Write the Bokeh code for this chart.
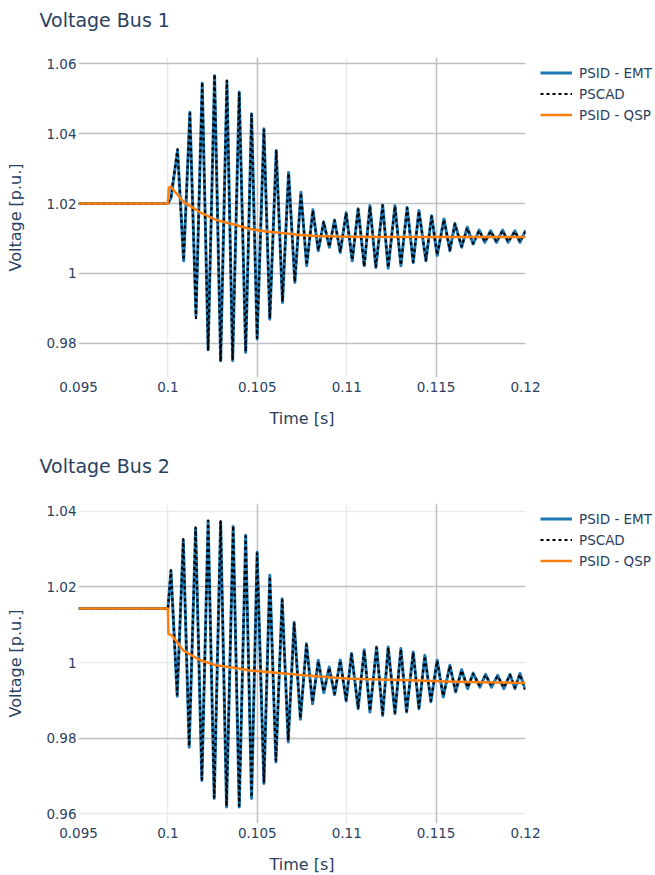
from bokeh.plotting import figure
from bokeh.models import Range1d, FixedTicker, Grid, Legend, LegendItem
from bokeh.layouts import column
from bokeh.embed import file_html
from bokeh.resources import INLINE

# ---------------- data ----------------
series_names = ["PSID - EMT", "PSCAD", "PSID - QSP"]
x_ticks = [0.095, 0.1, 0.105, 0.11, 0.115, 0.12]
x_tick_labels = ["0.095", "0.1", "0.105", "0.11", "0.115", "0.12"]

# Bus 1
bus1_time = [0.09500, 0.10000, 0.10005, 0.10017,
             0.10054, 0.10088, 0.10123, 0.10157, 0.10192, 0.10225, 0.10261, 0.10295, 0.10330, 0.10362,
             0.10399, 0.10435, 0.10468, 0.10499, 0.10537, 0.10570, 0.10606, 0.10641, 0.10675, 0.10710,
             0.10744, 0.10776, 0.10811, 0.10841, 0.10871, 0.10903, 0.10932, 0.10964, 0.10997, 0.11031,
             0.11064, 0.11098, 0.11130, 0.11163, 0.11201, 0.11232, 0.11270, 0.11303, 0.11338, 0.11372,
             0.11404, 0.11443, 0.11475, 0.11506, 0.11544, 0.11577, 0.11605, 0.11643, 0.11674, 0.11707,
             0.11741, 0.11773, 0.11805, 0.11838, 0.11872, 0.11903, 0.11941, 0.11969, 0.12002]
bus1_emt = [1.0200, 1.0200, 1.0205, 1.0215,
            1.0352, 1.0036, 1.0461, 0.9879, 1.0544, 0.9783, 1.0566, 0.9750, 1.0550, 0.9750,
            1.0519, 0.9774, 1.0457, 0.9812, 1.0414, 0.9869, 1.0352, 0.9917, 1.0289, 0.9974,
            1.0232, 1.0022, 1.0182, 1.0065, 1.0146, 1.0075, 1.0153, 1.0060, 1.0174, 1.0036,
            1.0185, 1.0022, 1.0194, 1.0017, 1.0196, 1.0015, 1.0194, 1.0022, 1.0189, 1.0031,
            1.0180, 1.0036, 1.0165, 1.0051, 1.0156, 1.0065, 1.0143, 1.0075, 1.0132, 1.0084,
            1.0124, 1.0089, 1.0122, 1.0089, 1.0124, 1.0089, 1.0122, 1.0089, 1.0124]
bus1_pscad = [1.0200, 1.0200, 1.0206, 1.0218,
              1.0356, 1.0038, 1.0458, 0.9872, 1.0548, 0.9778, 1.0570, 0.9748, 1.0552, 0.9752,
              1.0516, 0.9776, 1.0455, 0.9815, 1.0411, 0.9871, 1.0350, 0.9920, 1.0286, 0.9976,
              1.0230, 1.0024, 1.0180, 1.0066, 1.0148, 1.0076, 1.0151, 1.0062, 1.0172, 1.0038,
              1.0183, 1.0020, 1.0192, 1.0019, 1.0194, 1.0017, 1.0192, 1.0024, 1.0187, 1.0033,
              1.0178, 1.0038, 1.0163, 1.0053, 1.0154, 1.0067, 1.0141, 1.0077, 1.0130, 1.0086,
              1.0122, 1.0091, 1.0120, 1.0091, 1.0122, 1.0091, 1.0120, 1.0091, 1.0122]
bus1_qsp_time = [0.0950, 0.1000, 0.10005, 0.10015, 0.1009, 0.1018, 0.1027, 0.1037, 0.1046,
                 0.1055, 0.1065, 0.1074, 0.1083, 0.1100, 0.1130, 0.1160, 0.1200]
bus1_qsp = [1.0200, 1.0200, 1.0245, 1.0248, 1.0204, 1.0175, 1.0153, 1.0140, 1.0127,
            1.0120, 1.0115, 1.0110, 1.0107, 1.0105, 1.0104, 1.0104, 1.0104]
bus1_y_ticks = [0.98, 1.0, 1.02, 1.04, 1.06]
bus1_y_labels = ["0.98", "1", "1.02", "1.04", "1.06"]

# Bus 2
bus2_time = [0.09500, 0.10000,
             0.10017, 0.10052, 0.10086, 0.10119, 0.10155, 0.10190, 0.10225, 0.10259, 0.10295, 0.10328,
             0.10365, 0.10399, 0.10435, 0.10468, 0.10499, 0.10537, 0.10570, 0.10604, 0.10639, 0.10673,
             0.10706, 0.10741, 0.10775, 0.10809, 0.10841, 0.10872, 0.10902, 0.10932, 0.10964, 0.10997,
             0.11027, 0.11064, 0.11098, 0.11130, 0.11167, 0.11201, 0.11232, 0.11270, 0.11303, 0.11335,
             0.11372, 0.11404, 0.11437, 0.11471, 0.11506, 0.11540, 0.11577, 0.11609, 0.11643, 0.11676,
             0.11707, 0.11745, 0.11777, 0.11810, 0.11844, 0.11879, 0.11913, 0.11941, 0.11969, 0.11997]
bus2_emt = [1.0143, 1.0143,
            1.0242, 0.9911, 1.0323, 0.9776, 1.0354, 0.9688, 1.0374, 0.9640, 1.0372, 0.9618,
            1.0360, 0.9618, 1.0337, 0.9640, 1.0292, 0.9680, 1.0231, 0.9737, 1.0169, 0.9790,
            1.0107, 0.9850, 1.0050, 0.9891, 1.0006, 0.9920, 0.9988, 0.9915, 1.0007, 0.9898,
            1.0024, 0.9878, 1.0034, 0.9869, 1.0041, 0.9860, 1.0041, 0.9865, 1.0037, 0.9869,
            1.0028, 0.9878, 1.0019, 0.9896, 1.0006, 0.9909, 0.9993, 0.9922, 0.9981, 0.9931,
            0.9972, 0.9935, 0.9969, 0.9935, 0.9966, 0.9931, 0.9969, 0.9931, 0.9971, 0.9931]
bus2_pscad = [1.0143, 1.0143,
              1.0245, 0.9915, 1.0327, 0.9779, 1.0358, 0.9691, 1.0376, 0.9643, 1.0374, 0.9620,
              1.0362, 0.9621, 1.0334, 0.9644, 1.0289, 0.9684, 1.0228, 0.9741, 1.0165, 0.9794,
              1.0104, 0.9853, 1.0047, 0.9895, 1.0003, 0.9923, 0.9986, 0.9918, 1.0005, 0.9901,
              1.0022, 0.9881, 1.0032, 0.9872, 1.0039, 0.9863, 1.0039, 0.9868, 1.0035, 0.9872,
              1.0026, 0.9881, 1.0017, 0.9899, 1.0004, 0.9912, 0.9991, 0.9925, 0.9979, 0.9934,
              0.9970, 0.9938, 0.9967, 0.9938, 0.9964, 0.9934, 0.9967, 0.9934, 0.9969, 0.9928]
bus2_qsp_time = [0.0950, 0.1000, 0.10003, 0.10022, 0.10086, 0.1018, 0.1027, 0.1037, 0.1046,
                 0.1065, 0.1083, 0.1102, 0.1135, 0.1160, 0.1200]
bus2_qsp = [1.0143, 1.0143, 1.0076, 1.0072, 1.0032, 1.0006, 0.9993, 0.9986, 0.9979,
            0.9971, 0.9964, 0.9957, 0.9953, 0.9949, 0.9946]
bus2_y_ticks = [0.96, 0.98, 1.0, 1.02, 1.04]
bus2_y_labels = ["0.96", "0.98", "1", "1.02", "1.04"]

# ---------------- style ----------------
FONT = "DejaVu Sans"
TXT = "#2a3f5f"
LIGHT = "#e6eaf1"
DARK = "#bdbfc5"
BLUE = "#1f77b4"
ORANGE = "#ff7f0e"


def make_fig(title, yr, t, emt, pscad, tq, qsp, yticks, ylabels,
             xdark, xlight, ydark, ylight, top, bottom):
    p = figure(frame_width=447, frame_height=320,
               min_border_left=78, min_border_right=130,
               min_border_top=top, min_border_bottom=bottom,
               x_range=Range1d(x_ticks[0], x_ticks[-1]), y_range=Range1d(*yr),
               output_backend="svg", toolbar_location=None)
    p.outline_line_color = None
    p.background_fill_color = "white"
    p.border_fill_color = "white"
    p.xgrid.visible = False
    p.ygrid.visible = False

    for dim, ticks, col, w in [(0, xlight, LIGHT, 1.5), (1, ylight, LIGHT, 1.5),
                               (0, xdark, DARK, 1.5), (1, ydark, DARK, 1.5)]:
        if ticks:
            p.add_layout(Grid(dimension=dim, ticker=FixedTicker(ticks=ticks),
                              grid_line_color=col, grid_line_width=w))

    # title (a blank second line lifts it away from the frame)
    p.title.text = title + "\n "
    p.title.text_font = FONT
    p.title.text_font_size = "19px"
    p.title.text_font_style = "normal"
    p.title.text_color = TXT
    p.title.align = "left"
    p.title.vertical_align = "top"
    p.title.offset = -39
    p.title.standoff = 6

    # axes
    for ax in (p.xaxis[0], p.yaxis[0]):
        ax.axis_line_color = None
        ax.major_tick_line_color = None
        ax.minor_tick_line_color = None
        ax.major_tick_out = 0
        ax.major_tick_in = 0
        ax.minor_tick_out = 0
        ax.major_label_text_font = FONT
        ax.major_label_text_font_size = "13.5px"
        ax.major_label_text_color = TXT
        ax.axis_label_text_font = FONT
        ax.axis_label_text_font_size = "16px"
        ax.axis_label_text_font_style = "normal"
        ax.axis_label_text_color = TXT
    p.xaxis[0].ticker = FixedTicker(ticks=x_ticks)
    p.xaxis[0].major_label_overrides = dict(zip(x_ticks, x_tick_labels))
    p.xaxis[0].axis_label = "Time [s]"
    p.xaxis[0].major_label_standoff = 4
    p.xaxis[0].axis_label_standoff = 14
    p.yaxis[0].ticker = FixedTicker(ticks=yticks)
    p.yaxis[0].major_label_overrides = dict(zip(yticks, ylabels))
    p.yaxis[0].axis_label = "Voltage [p.u.]"
    p.yaxis[0].major_label_standoff = 2
    p.yaxis[0].axis_label_standoff = 18

    r_emt = p.line(t, emt, line_color=BLUE, line_width=3, line_join="round")
    r_ps = p.line(t, pscad, line_color="black", line_width=2.2, line_dash="3 3", line_join="round")
    r_q = p.line(tq, qsp, line_color=ORANGE, line_width=2.5, line_join="round")

    legend = Legend(items=[LegendItem(label=series_names[0], renderers=[r_emt]),
                           LegendItem(label=series_names[1], renderers=[r_ps]),
                           LegendItem(label=series_names[2], renderers=[r_q])],
                    location=(15, 252), margin=0, padding=0, spacing=0,
                    glyph_width=32, glyph_height=21, label_height=21, label_standoff=7,
                    label_text_font=FONT, label_text_font_size="13.5px", label_text_color=TXT,
                    border_line_color=None, background_fill_alpha=0)
    p.add_layout(legend, "right")
    return p


p1 = make_fig("Voltage Bus 1", (0.9702, 1.0618), bus1_time, bus1_emt, bus1_pscad,
              bus1_qsp_time, bus1_qsp, bus1_y_ticks, bus1_y_labels,
              xdark=[0.105, 0.115], xlight=[0.1, 0.11],
              ydark=bus1_y_ticks, ylight=[], top=57, bottom=60)
p2 = make_fig("Voltage Bus 2", (0.9574, 1.0421), bus2_time, bus2_emt, bus2_pscad,
              bus2_qsp_time, bus2_qsp, bus2_y_ticks, bus2_y_labels,
              xdark=[0.105, 0.115], xlight=[0.1, 0.11],
              ydark=[0.98, 1.02], ylight=[0.96, 1.0, 1.04], top=66, bottom=52)

layout = column(p1, p2, spacing=0)
open("out.html", "w").write(file_html(layout, INLINE))
